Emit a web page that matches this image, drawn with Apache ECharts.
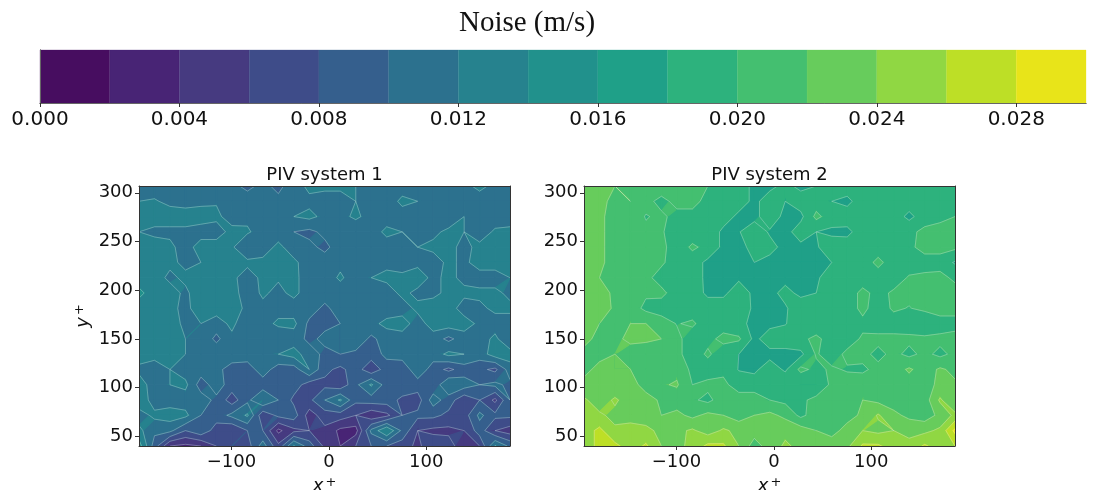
<!DOCTYPE html>
<html><head><meta charset="utf-8">
<style>html,body{margin:0;padding:0;background:#fff}#c{width:1098px;height:490px}</style>
<script src="https://cdn.jsdelivr.net/npm/echarts@6/dist/echarts.min.js"></script></head>
<body><div id="c"></div>
<script>
const levels=[0,0.002,0.004,0.006,0.008,0.010,0.012,0.014,0.016,0.018,0.020,0.022,0.024,0.026,0.028,0.030];
const bandColors=['#470d60','#482475','#463a80','#3e4c89','#355f8d','#2c718e','#26828e','#21918c','#1fa088','#2db27d','#44bf70','#67cc5c','#90d743','#bddf26','#e8e419'];
const barTicks=[0,0.004,0.008,0.012,0.016,0.020,0.024,0.028];
const xTicks=[-100,0,100];
const yTicks=[50,100,150,200,250,300];
const xNodes=[-195,-179.1,-163.2,-147.3,-131.4,-115.5,-99.6,-83.7,-67.8,-51.9,-36,-20.1,-4.2,11.7,27.6,43.5,59.4,75.3,91.2,107.1,123,138.9,154.8,170.7,186];
const yNodes=[307,291.3,275.6,259.9,244.2,228.5,212.8,197.1,181.4,165.7,150,134.3,118.6,102.9,87.2,71.5,55.8,40];
// values in mm/s, top row first
const noise1=[
[11,11,10.5,11,11,11,10.5,9.5,10.5,9.5,11,12.5,12.5,12.5,12,11,10.5,11,11,11,11,11.5,12.5,11.5,11],
[12,12.2,11.5,11.2,11.5,11.8,11,11,11.5,10.5,11,11.5,11,11,12,10,10.8,12.5,12,11,11,11.5,11,11,11],
[13,13,13,13,13,12.5,11,11.5,11,11,12,12.5,11.5,11.2,12.5,11,11,11,11,11,10.5,12,11,11,11],
[12,11.5,11.5,11.5,11,11,12.7,12.3,11,11,10,9.5,10.5,11.5,10,11,12.5,12,11,11.5,12.5,12,11,12.3,12.5],
[13,13,12.5,11,13,13,12.3,10,11,12.5,11,10.5,9.5,11,11,11,11,11,12,12.5,12.5,11.5,12.5,12.5,13],
[13,13,12.5,11.5,12,12.2,12.2,12.5,12.5,13,12.4,11,11,11.5,11,11,11.5,11,11.5,11,12.5,11.5,13,13,13],
[13,13,11.5,12.5,13,13,12.5,11,12.5,12.2,12.5,11,11,12.3,11,12,12.5,12.5,13,11.5,12.5,11.5,11,11,12],
[14.5,13,13,11.5,13.5,12.8,12.8,11,12.3,11.5,12.5,11,11,11,11,11.3,11,12.5,11.5,11.5,12.5,12.5,12.5,12.5,11.5],
[13,13,12.5,11.5,13,13,13,11.5,11.5,11,11,11,9.5,11,11,11,11,11,12.5,13,13,11,11.5,12.5,12.5],
[13,13,13,11.5,12,11,12.5,10.5,11,12.5,12.5,9.5,9.5,10,11,11.5,12.5,13,11,13,13,13,11.5,11,11],
[13,13,13,12,11.5,9.5,11.5,10,11,10,11,9.5,10.5,10,11.5,9.5,11,11,10.5,11,9.5,11,11,12.5,10],
[13,13,13,12,11,11.5,12,11,11,12,12.8,11,9.5,10,9.5,9,10.5,11,12,11,12.5,12,11,13,13],
[11.5,10.5,12,11,11,11,8.5,9,11,9,9,12,8.5,7.5,9,6.5,9,8.5,11.5,9,7.5,9,8.5,7.5,11],
[13,11,12,12.5,9,11,9,9.5,9,9.5,9,7,7.5,6.5,9.5,12.3,9,9.5,9,8.5,12,11,10,10.5,9.5],
[13.5,11,11,11,11,9.5,7,9.5,12,10,7.5,7.5,10,12.3,8.5,9,9,7.5,7,11,9,6.5,8,5.5,10],
[11,12.5,13,12.5,10,9,10.5,12.3,6.5,8.5,9,5,7,7,6,4.5,5.5,8,8.5,8.5,7.5,7,10.5,8.5,8.5],
[12.5,10.5,10.5,8,9.5,7,6,8,8,3.5,5.5,6,5.5,3.5,3.2,10.5,14,9.5,6,5.5,5.5,6,9,6,5],
[15,9,4,3.5,4,6,8,7,11,6.5,12.2,9,5.5,4,6,8,8,7,5.5,7.5,7,4.5,6,12.2,9.5]];
const noise2=[
[22.5,22.5,22,21,21,21,21,20.5,20,20,19,17.5,17.5,18.5,17.5,18,19,19,19,19,19,19.5,19,19,19],
[23,22.5,21.5,22,20.5,19.5,20.5,20.5,19.5,19,19,17.5,19,18,19,19,18,17.5,19,19,19,19,19,19,19],
[22.5,22.5,21,21,19.9,20.3,19.5,19.5,19.5,19,17.5,17.5,19,17.5,17.5,20.5,19,19,19,19,19,17.5,19,19,20],
[23,22.5,21,20.5,20.3,20.2,19,19,19.5,17.5,17.9,19,17.8,17.3,19,18,17.6,17.5,19,19,19,19.5,20.5,21.5,20.3],
[22.5,22.5,21,20.5,20.5,20.5,19,20.3,19.5,17.5,17.5,18.5,18.5,17.5,17.5,17.8,19,19,19,19,19.5,19.5,20.8,20.8,20.4],
[22,22.5,21,20.5,20.5,20.3,19,19,17.5,17.5,17.5,18,17.5,17.4,17.4,17.8,18,19,19,20.5,19,19,19,19,17.8],
[22.5,22,21,20.5,20.5,19.2,19,19,17.5,17.5,17.7,17.5,17.4,17.5,17.5,17.7,19,19,19,19,19,20.2,20.5,20.7,19.5],
[23,23,21.5,20.6,20.3,20.5,19,19,17.6,17.6,19,17.6,17.5,18.5,17.6,18,19,19,20.5,19.4,20.3,20.5,20.7,21,21],
[23,23.5,21.5,21,19.5,19,19,19,19,19,19,17.7,17.6,17.8,19,19,19,19,20.5,19,20.3,19.9,20.5,21,21],
[22.5,22,21.5,22,22,21,19.9,20.3,19,19.2,18.5,17.5,17.5,17.9,19,18.5,19,18,19.5,19,19,19,18,19,19],
[22.5,21.5,21.5,22.5,22.3,22,20.5,19,19.5,20.5,20.3,17.5,19,19,19.5,20.5,19,19,20.3,20.5,20.5,20.4,20.5,20.5,21],
[21.5,21.5,22,21,21,21,20.5,19,20.3,19,18,17.7,17.4,17.4,17.5,20.2,19,20.5,20.5,19.5,20.5,19.5,20.5,19.5,20.5],
[21.5,22.5,22,22,21.5,21,21.5,19.5,19,19.5,17.9,17.6,19,17.7,20.5,19.5,20.3,19.8,19.7,20.5,21,22.3,21,22.3,21.5],
[22.5,22.6,22.5,22.5,21.5,21.8,22.2,20,20.5,20.5,19,19,19.5,19.5,18,18,20.5,21,21,21,21,21,21.5,22.3,22.3],
[24.3,23,24.3,23,22.5,21.8,21,20.3,19.5,21,21,21,20,19.5,19.5,20.7,21,21,22,21.5,21,20.6,21,24.3,22],
[24.5,24.3,23.5,23.5,23,22,22.5,21.5,22.5,22,21,22,22.5,21.5,19.5,21,21.5,21,22.5,24.2,22.5,21.5,21,22.5,24.5],
[25,26.5,24.3,24.5,24.5,23.5,23.5,24.3,23,24.3,23.5,23,23,23.5,23,22,21,23,24,23.5,24,23.5,23.5,24.4,28.5],
[25,26.5,26.5,25,26.3,24,23.5,24.5,26.5,26.3,24,21,23,24.3,23.5,23.5,23.5,23.5,26.3,26.3,25,24.5,26.3,25,26]];

function clipHalf(poly,L,keepAbove){
  const out=[];
  for(let k=0;k<poly.length;k++){
    const a=poly[k],b=poly[(k+1)%poly.length];
    const ia=keepAbove?a[2]>=L:a[2]<=L, ib=keepAbove?b[2]>=L:b[2]<=L;
    if(ia)out.push(a);
    if(ia!==ib){const t=(L-a[2])/(b[2]-a[2]);out.push([a[0]+t*(b[0]-a[0]),a[1]+t*(b[1]-a[1]),L]);}
  }
  return out;
}
function cellQuad(rows,i,j){
  return [[xNodes[i],yNodes[j],rows[j][i]/1000],[xNodes[i+1],yNodes[j],rows[j][i+1]/1000],
          [xNodes[i+1],yNodes[j+1],rows[j+1][i+1]/1000],[xNodes[i],yNodes[j+1],rows[j+1][i]/1000]];
}
function cellRenderer(rows){
  return function(params,api){
    const q=cellQuad(rows,api.value(0),api.value(1));
    const children=[];
    for(let b=0;b<bandColors.length;b++){
      let p=clipHalf(q,levels[b],true);
      if(p.length<3)continue;
      p=clipHalf(p,levels[b+1],false);
      if(p.length<3)continue;
      children.push({type:'polygon',shape:{points:p.map(v=>api.coord([v[0],v[1]]))},
        style:{fill:bandColors[b],stroke:bandColors[b],lineWidth:1.2}});
    }
    return {type:'group',children};
  };
}
function lineRenderer(rows){
  return function(params,api){
    const q=cellQuad(rows,api.value(0),api.value(1));
    const children=[];
    for(let b=1;b<levels.length-1;b++){
      const L=levels[b],pts=[];
      for(let k=0;k<4;k++){
        const a=q[k],c=q[(k+1)%4];
        if((a[2]>=L)!==(c[2]>=L)){const t=(L-a[2])/(c[2]-a[2]);pts.push(api.coord([a[0]+t*(c[0]-a[0]),a[1]+t*(c[1]-a[1])]));}
      }
      for(let s=0;s+1<pts.length;s+=2){
        children.push({type:'line',shape:{x1:pts[s][0],y1:pts[s][1],x2:pts[s+1][0],y2:pts[s+1][1]},
          style:{stroke:'rgba(225,235,235,0.4)',lineWidth:0.8}});
      }
    }
    return {type:'group',children};
  };
}
const cellData=[];
for(let j=0;j<yNodes.length-1;j++)for(let i=0;i<xNodes.length-1;i++)cellData.push([i,j]);

const tickStyle={color:'#111',fontFamily:'DejaVu Sans',fontSize:18};
const lineDark={show:true,lineStyle:{color:'#333',width:1}};
function xAxes(g){
  return [{type:'value',gridIndex:g,min:-195,max:186,position:'bottom',z:6,splitLine:{show:false},axisLine:{...lineDark,onZero:false},
    axisTick:{show:true,length:4,lineStyle:{color:'#333'},customValues:xTicks},
    axisLabel:{...tickStyle,margin:7,customValues:xTicks,formatter:v=>String(v).replace('-','\u2212')},
    name:'{i|x}{s|+}',nameLocation:'middle',nameGap:23,nameTextStyle:{rich:{i:{fontFamily:'DejaVu Sans',fontStyle:'italic',fontSize:18,color:'#111'},s:{fontFamily:'DejaVu Sans',fontSize:13,color:'#111',verticalAlign:'top',padding:[0,0,8,2]}}}},
   {type:'value',gridIndex:g,min:-195,max:186,position:'top',z:6,splitLine:{show:false},axisLine:{...lineDark,onZero:false},axisTick:{show:false},axisLabel:{show:false}}];
}
function yAxes(g,withName){
  return [{type:'value',gridIndex:g,min:40,max:307,position:'left',z:6,splitLine:{show:false},axisLine:{...lineDark,onZero:false},
    axisTick:{show:true,length:4,lineStyle:{color:'#333'},customValues:yTicks},
    axisLabel:{...tickStyle,margin:6,customValues:yTicks},
    name:withName?'{i|y}{s|+}':'',nameLocation:'middle',nameGap:45,nameRotate:90,nameTextStyle:{rich:{i:{fontFamily:'DejaVu Sans',fontStyle:'italic',fontSize:18,color:'#111'},s:{fontFamily:'DejaVu Sans',fontSize:13,color:'#111',padding:[0,0,8,2]}}}},
   {type:'value',gridIndex:g,min:40,max:307,position:'right',z:6,splitLine:{show:false},axisLine:{...lineDark,onZero:false},axisTick:{show:false},axisLabel:{show:false}}];
}
const chart=echarts.init(document.getElementById('c'),null,{renderer:'canvas'});
chart.setOption({
  animation:false,backgroundColor:'#fff',
  title:[
    {text:'Noise (m/s)',left:527,top:9,padding:0,textAlign:'center',textStyle:{fontFamily:'Liberation Serif',fontSize:29,fontWeight:'normal',color:'#111'}},
    {text:'PIV system 1',left:324.5,top:166,padding:0,textAlign:'center',textStyle:{fontFamily:'DejaVu Sans',fontSize:18,fontWeight:'normal',color:'#111'}},
    {text:'PIV system 2',left:769.5,top:166,padding:0,textAlign:'center',textStyle:{fontFamily:'DejaVu Sans',fontSize:18,fontWeight:'normal',color:'#111'}}
  ],
  grid:[
    {left:40,top:50,width:1046,height:53,outerBoundsMode:'none'},
    {left:139,top:186,width:371,height:260,outerBoundsMode:'none'},
    {left:584,top:186,width:371,height:260,outerBoundsMode:'none'}
  ],
  xAxis:[
    {type:'value',gridIndex:0,min:0,max:0.03,position:'bottom',z:6,splitLine:{show:false},axisLine:{show:true,lineStyle:{color:'#666'}},
     axisTick:{show:true,length:4,lineStyle:{color:'#333'},customValues:barTicks},
     axisLabel:{color:'#111',fontFamily:'DejaVu Sans',fontSize:20,margin:7,customValues:barTicks,formatter:v=>v.toFixed(3)}},
    {type:'value',gridIndex:0,min:0,max:0.03,position:'top',z:6,splitLine:{show:false},axisLine:{show:true,lineStyle:{color:'#666'}},axisTick:{show:false},axisLabel:{show:false}},
    ...xAxes(1),...xAxes(2)
  ],
  yAxis:[
    {type:'value',gridIndex:0,min:0,max:1,position:'left',z:6,splitLine:{show:false},axisLine:{show:true,lineStyle:{color:'#666'}},axisTick:{show:false},axisLabel:{show:false}},
    {type:'value',gridIndex:0,min:0,max:1,position:'right',z:6,splitLine:{show:false},axisLine:{show:true,lineStyle:{color:'#666'}},axisTick:{show:false},axisLabel:{show:false}},
    ...yAxes(1,true),...yAxes(2,false)
  ],
  series:[
    {type:'custom',xAxisIndex:0,yAxisIndex:0,data:bandColors.map((c,b)=>[levels[b],levels[b+1],b]),silent:true,
     renderItem:(p,api)=>{const a=api.coord([api.value(0),1]),z=api.coord([api.value(1),0]);
       const col=bandColors[api.value(2)];
       return {type:'rect',shape:{x:a[0],y:a[1],width:z[0]-a[0],height:z[1]-a[1]},style:{fill:col,stroke:col,lineWidth:0.3}};}},
    {type:'custom',xAxisIndex:2,yAxisIndex:2,clip:true,silent:true,z:2,data:cellData,encode:{x:0,y:1},renderItem:cellRenderer(noise1)},
    {type:'custom',xAxisIndex:4,yAxisIndex:4,clip:true,silent:true,z:2,data:cellData,encode:{x:0,y:1},renderItem:cellRenderer(noise2)},
    {type:'custom',xAxisIndex:2,yAxisIndex:2,clip:true,silent:true,z:3,data:cellData,encode:{x:0,y:1},renderItem:lineRenderer(noise1)},
    {type:'custom',xAxisIndex:4,yAxisIndex:4,clip:true,silent:true,z:3,data:cellData,encode:{x:0,y:1},renderItem:lineRenderer(noise2)}
  ]
});
</script></body></html>
